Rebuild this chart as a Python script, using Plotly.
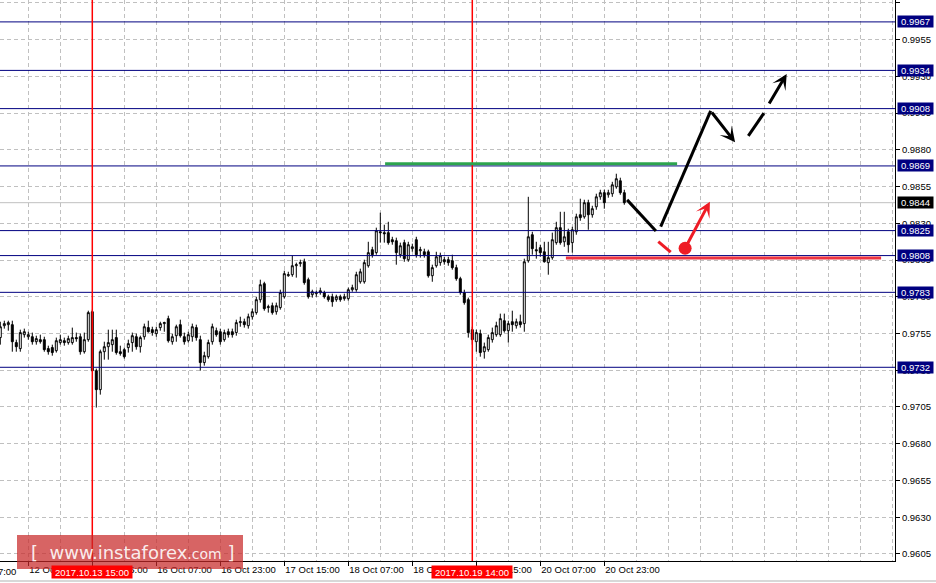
import plotly.graph_objects as go

# ---------------- data ----------------
bars = list(range(157))

opens = [
    0.97522, 0.97603, 0.97610, 0.97610, 0.97488, 0.97447, 0.97542, 0.97528, 0.97528, 0.97494,
    0.97508, 0.97508, 0.97447, 0.97454, 0.97433, 0.97488, 0.97501, 0.97488, 0.97488, 0.97522,
    0.97528, 0.97426, 0.97508, 0.97698, 0.97297, 0.97168, 0.97426, 0.97460, 0.97474, 0.97522,
    0.97426, 0.97440, 0.97454, 0.97488, 0.97528, 0.97460, 0.97528, 0.97590, 0.97576, 0.97549,
    0.97590, 0.97617, 0.97651, 0.97494, 0.97535, 0.97610, 0.97528, 0.97501, 0.97528, 0.97590,
    0.97508, 0.97352, 0.97392, 0.97494, 0.97569, 0.97562, 0.97508, 0.97562, 0.97562, 0.97556,
    0.97624, 0.97630, 0.97603, 0.97664, 0.97692, 0.97780, 0.97889, 0.97726, 0.97739, 0.97698,
    0.97726, 0.97800, 0.97943, 0.97950, 0.98011, 0.98025, 0.98038, 0.97916, 0.97814, 0.97821,
    0.97828, 0.97828, 0.97800, 0.97800, 0.97780, 0.97800, 0.97787, 0.97787, 0.97848, 0.97848,
    0.97902, 0.97902, 0.98011, 0.98120, 0.98100, 0.98242, 0.98236, 0.98236, 0.98188, 0.98181,
    0.98086, 0.98168, 0.98052, 0.98127, 0.98188, 0.98113, 0.98106, 0.98106, 0.97943, 0.98011,
    0.98032, 0.98052, 0.98052, 0.98045, 0.97998, 0.97923, 0.97828, 0.97780, 0.97576, 0.97494,
    0.97549, 0.97426, 0.97440, 0.97508, 0.97542, 0.97542, 0.97637, 0.97569, 0.97630, 0.97603,
    0.97630, 0.97617, 0.98045, 0.98222, 0.98120, 0.98134, 0.98106, 0.98032, 0.98066, 0.98168,
    0.98270, 0.98174, 0.98242, 0.98168, 0.98242, 0.98358, 0.98344, 0.98440, 0.98358, 0.98412,
    0.98480, 0.98508, 0.98494, 0.98501, 0.98548, 0.98589, 0.98508,
]
highs = [
    0.97630, 0.97637, 0.97637, 0.97637, 0.97508, 0.97576, 0.97583, 0.97562, 0.97556, 0.97535,
    0.97542, 0.97528, 0.97467, 0.97474, 0.97522, 0.97542, 0.97522, 0.97535, 0.97590, 0.97556,
    0.97549, 0.97556, 0.97705, 0.97712, 0.97311, 0.97440, 0.97494, 0.97576, 0.97576, 0.97576,
    0.97467, 0.97454, 0.97508, 0.97556, 0.97549, 0.97535, 0.97617, 0.97637, 0.97596, 0.97596,
    0.97630, 0.97630, 0.97671, 0.97549, 0.97610, 0.97644, 0.97556, 0.97562, 0.97617, 0.97610,
    0.97535, 0.97426, 0.97508, 0.97617, 0.97590, 0.97583, 0.97576, 0.97583, 0.97583, 0.97644,
    0.97664, 0.97651, 0.97685, 0.97719, 0.97800, 0.97916, 0.97902, 0.97746, 0.97760, 0.97760,
    0.97848, 0.97977, 0.97970, 0.98079, 0.98032, 0.98052, 0.98059, 0.97930, 0.97848, 0.97841,
    0.97862, 0.97841, 0.97814, 0.97821, 0.97814, 0.97814, 0.97821, 0.97862, 0.97882, 0.97970,
    0.97991, 0.98052, 0.98174, 0.98140, 0.98270, 0.98372, 0.98290, 0.98310, 0.98208, 0.98202,
    0.98168, 0.98188, 0.98174, 0.98161, 0.98208, 0.98140, 0.98127, 0.98120, 0.98018, 0.98106,
    0.98100, 0.98072, 0.98072, 0.98086, 0.98018, 0.97936, 0.97848, 0.97794, 0.97596, 0.97576,
    0.97576, 0.97488, 0.97542, 0.97590, 0.97630, 0.97685, 0.97685, 0.97637, 0.97705, 0.97651,
    0.97678, 0.98059, 0.98480, 0.98242, 0.98174, 0.98154, 0.98174, 0.98174, 0.98236, 0.98310,
    0.98378, 0.98378, 0.98263, 0.98276, 0.98365, 0.98467, 0.98460, 0.98460, 0.98419, 0.98501,
    0.98528, 0.98528, 0.98528, 0.98582, 0.98637, 0.98610, 0.98528,
]
lows = [
    0.97474, 0.97583, 0.97569, 0.97426, 0.97426, 0.97426, 0.97522, 0.97508, 0.97474, 0.97474,
    0.97481, 0.97426, 0.97406, 0.97399, 0.97420, 0.97474, 0.97467, 0.97474, 0.97474, 0.97494,
    0.97406, 0.97413, 0.97494, 0.97290, 0.97046, 0.97134, 0.97372, 0.97372, 0.97426, 0.97406,
    0.97399, 0.97379, 0.97420, 0.97426, 0.97440, 0.97420, 0.97508, 0.97556, 0.97535, 0.97528,
    0.97569, 0.97562, 0.97488, 0.97474, 0.97494, 0.97522, 0.97474, 0.97488, 0.97494, 0.97501,
    0.97297, 0.97331, 0.97379, 0.97474, 0.97528, 0.97474, 0.97494, 0.97522, 0.97522, 0.97535,
    0.97596, 0.97590, 0.97583, 0.97644, 0.97678, 0.97760, 0.97705, 0.97692, 0.97678, 0.97678,
    0.97712, 0.97787, 0.97936, 0.97936, 0.97930, 0.98004, 0.97882, 0.97787, 0.97794, 0.97800,
    0.97814, 0.97787, 0.97766, 0.97732, 0.97766, 0.97766, 0.97773, 0.97773, 0.97834, 0.97834,
    0.97889, 0.97889, 0.97998, 0.98066, 0.98086, 0.98168, 0.98168, 0.98154, 0.98154, 0.98018,
    0.98066, 0.98038, 0.98038, 0.98106, 0.98066, 0.98066, 0.98066, 0.97930, 0.97902, 0.97998,
    0.98011, 0.98018, 0.98011, 0.97984, 0.97909, 0.97814, 0.97746, 0.97522, 0.97474, 0.97426,
    0.97392, 0.97379, 0.97426, 0.97488, 0.97528, 0.97528, 0.97556, 0.97488, 0.97562, 0.97583,
    0.97590, 0.97562, 0.98032, 0.98086, 0.98059, 0.98072, 0.98032, 0.97950, 0.98052, 0.98154,
    0.98154, 0.98140, 0.98100, 0.98100, 0.98222, 0.98317, 0.98331, 0.98256, 0.98338, 0.98392,
    0.98460, 0.98399, 0.98474, 0.98480, 0.98535, 0.98494, 0.98426,
]
closes = [
    0.97596, 0.97617, 0.97624, 0.97494, 0.97460, 0.97556, 0.97562, 0.97542, 0.97494, 0.97515,
    0.97494, 0.97440, 0.97426, 0.97420, 0.97501, 0.97508, 0.97488, 0.97515, 0.97522, 0.97515,
    0.97426, 0.97508, 0.97692, 0.97297, 0.97168, 0.97426, 0.97460, 0.97488, 0.97508, 0.97420,
    0.97413, 0.97392, 0.97481, 0.97535, 0.97460, 0.97522, 0.97596, 0.97562, 0.97556, 0.97576,
    0.97617, 0.97624, 0.97501, 0.97528, 0.97596, 0.97535, 0.97494, 0.97542, 0.97596, 0.97522,
    0.97352, 0.97399, 0.97488, 0.97596, 0.97542, 0.97494, 0.97556, 0.97542, 0.97542, 0.97624,
    0.97630, 0.97610, 0.97664, 0.97698, 0.97780, 0.97882, 0.97719, 0.97732, 0.97692, 0.97739,
    0.97828, 0.97957, 0.97950, 0.98011, 0.98018, 0.98032, 0.97896, 0.97800, 0.97834, 0.97828,
    0.97841, 0.97800, 0.97780, 0.97766, 0.97800, 0.97780, 0.97800, 0.97848, 0.97862, 0.97950,
    0.97970, 0.98032, 0.98100, 0.98086, 0.98249, 0.98236, 0.98229, 0.98168, 0.98174, 0.98100,
    0.98147, 0.98059, 0.98154, 0.98140, 0.98086, 0.98120, 0.98086, 0.97943, 0.97998, 0.98072,
    0.98079, 0.98038, 0.98032, 0.97998, 0.97923, 0.97828, 0.97760, 0.97556, 0.97508, 0.97556,
    0.97420, 0.97460, 0.97522, 0.97556, 0.97603, 0.97651, 0.97569, 0.97617, 0.97610, 0.97630,
    0.97610, 0.98038, 0.98208, 0.98127, 0.98113, 0.98100, 0.98038, 0.98066, 0.98188, 0.98270,
    0.98168, 0.98208, 0.98154, 0.98256, 0.98344, 0.98338, 0.98440, 0.98358, 0.98399, 0.98480,
    0.98508, 0.98440, 0.98508, 0.98562, 0.98603, 0.98508, 0.98440,
]

# horizontal levels (navy) and their labels
levels = [0.9967, 0.9934, 0.9908, 0.9869, 0.9825, 0.9808, 0.9783, 0.9732]
level_labels = ["0.9967", "0.9934", "0.9908", "0.9869", "0.9825", "0.9808", "0.9783", "0.9732"]
current_price = 0.9844
current_label = "0.9844"

# price axis ticks
price_ticks = [0.9605, 0.9630, 0.9655, 0.9680, 0.9705, 0.9730, 0.9755, 0.9780,
               0.9805, 0.9830, 0.9855, 0.9880, 0.9905, 0.9930, 0.9955, 0.9980]
price_tick_text = ["0.9605", "0.9630", "0.9655", "0.9680", "0.9705", "0.9730", "0.9755", "0.9780",
                   "0.9805", "0.9830", "0.9855", "0.9880", "0.9905", "0.9930", "0.9955", "0.9980"]

# time axis ticks (bar index -> label)
time_tick_bars = [7, 23, 39, 55, 71, 87, 103, 119, 135, 151]
time_tick_text = ["12 Oct 23:00", "13 Oct 15:00", "16 Oct 07:00", "16 Oct 23:00", "17 Oct 15:00",
                  "18 Oct 07:00", "18 Oct 23:00", "19 Oct 15:00", "20 Oct 07:00", "20 Oct 23:00"]
first_label = "12 Oct 07:00"
grid_bars = list(range(-1, 224, 8))

# vertical event markers
event_bars = [23, 118]
event_labels = ["2017.10.13 15:00", "2017.10.19 14:00"]

# drawn objects (bar index, price)
green_bars = [96.2, 169.2]
green_price = 0.98705
red_bars = [141.4, 220.2]
red_price = 0.98063
black_path_1 = [(156.7, 0.98459), (163.9, 0.98248)]
black_path_2 = [(165.1, 0.98277), (177.6, 0.99064)]
black_arrow_down = [(177.6, 0.99064), (183.7, 0.98851)]
black_dash_seg = [(187.0, 0.98894), (190.9, 0.99049)]
black_arrow_up = [(192.0, 0.99105), (196.6, 0.99316)]
red_dash_seg = [(164.5, 0.98175), (167.6, 0.98103)]
red_dot = (171.2, 0.98130)
red_arrow = [(171.2, 0.98130), (177.4, 0.98447)]

AXIS_FONT = "Liberation Sans, Arial, sans-serif"
FS = 9.5
NAVY = "#000080"
GRID = "#C0C0C0"

# ---------------- figure ----------------
fig = go.Figure()
fig.add_trace(go.Candlestick(
    x=bars, open=opens, high=highs, low=lows, close=closes,
    increasing=dict(line=dict(color="black", width=1), fillcolor="white"),
    decreasing=dict(line=dict(color="black", width=1), fillcolor="black"),
    whiskerwidth=0, showlegend=False, hoverinfo="skip",
))
fig.add_trace(go.Scatter(
    x=[red_dot[0]], y=[red_dot[1]], mode="markers",
    marker=dict(size=13, color="#EE1C25"), showlegend=False, hoverinfo="skip",
))

shapes = []
shapes.append(dict(type="line", xref="paper", x0=0, x1=1, yref="y", y0=current_price, y1=current_price,
                   line=dict(color="#C0C0C0", width=1), layer="between"))
for lv in levels:
    shapes.append(dict(type="line", xref="paper", x0=0, x1=1, yref="y", y0=lv, y1=lv,
                       line=dict(color=NAVY, width=1), layer="above"))
for b in event_bars:
    shapes.append(dict(type="line", xref="x", x0=b, x1=b, yref="paper", y0=0, y1=1,
                       line=dict(color="#FF0000", width=1.5), layer="above"))
shapes.append(dict(type="line", xref="x", x0=green_bars[0], x1=green_bars[1], yref="y",
                   y0=green_price, y1=green_price, line=dict(color="#2DA44E", width=3), layer="above"))
shapes.append(dict(type="line", xref="x", x0=red_bars[0], x1=red_bars[1], yref="y",
                   y0=red_price, y1=red_price, line=dict(color="#EE3340", width=3), layer="above"))
for seg, col in [(black_path_1, "black"), (black_path_2, "black"), (black_dash_seg, "black"),
                 (red_dash_seg, "#EE1C25")]:
    shapes.append(dict(type="line", xref="x", yref="y", x0=seg[0][0], y0=seg[0][1],
                       x1=seg[1][0], y1=seg[1][1], line=dict(color=col, width=3), layer="above"))
shapes.append(dict(type="rect", xref="paper", yref="paper",
                   x0=17 / 895, x1=243 / 895, y0=(561 - 569) / 561, y1=(561 - 535) / 561,
                   fillcolor="rgba(200,40,40,0.72)", line=dict(width=0), layer="above"))
shapes.append(dict(type="line", xref="paper", yref="paper", x0=0, x1=936 / 895,
                   y0=(561 - 581) / 561, y1=(561 - 581) / 561,
                   line=dict(color="#D8D8D8", width=2), layer="above"))

annotations = []
for lv, txt in zip(levels, level_labels):
    annotations.append(dict(xref="paper", x=1, xanchor="left", xshift=2, yref="y", y=lv,
                            text=txt, showarrow=False, bgcolor=NAVY, width=35, height=11,
                            borderpad=0, font=dict(family=AXIS_FONT, size=FS, color="white")))
annotations.append(dict(xref="paper", x=1, xanchor="left", xshift=2, yref="y", y=current_price,
                        text=current_label, showarrow=False, bgcolor="black", width=35, height=11,
                        borderpad=0, font=dict(family=AXIS_FONT, size=FS, color="white")))
for b, txt in zip(event_bars, event_labels):
    annotations.append(dict(xref="x", x=b, xanchor="center", yref="paper", y=0, yanchor="top",
                            yshift=-4, text=txt, showarrow=False, bgcolor="#FF0000", width=80, height=12,
                            borderpad=0, font=dict(family=AXIS_FONT, size=FS, color="white")))
annotations.append(dict(xref="paper", x=17 / 895, xanchor="right", yref="paper", y=0, yanchor="top",
                        yshift=-4, text=first_label, showarrow=False, borderpad=0,
                        font=dict(family=AXIS_FONT, size=FS, color="black")))
for (tail, tip), col in [(black_arrow_down, "black"), (black_arrow_up, "black"), (red_arrow, "#EE1C25")]:
    annotations.append(dict(xref="x", yref="y", axref="x", ayref="y", x=tip[0], y=tip[1],
                            ax=tail[0], ay=tail[1], text="", showarrow=True, arrowhead=3,
                            arrowsize=0.85, arrowwidth=3, arrowcolor=col, standoff=0, startstandoff=0))
annotations.append(dict(xref="paper", yref="paper", x=132 / 895, y=(561 - 552) / 561,
                        xanchor="center", yanchor="middle", showarrow=False,
                        text="[  www.instaforex<span style='font-size:14px'>.com</span> ]",
                        font=dict(family="DejaVu Sans, Verdana, sans-serif", size=18,
                                  color="rgba(255,255,255,0.9)")))

fig.update_layout(
    width=936, height=583,
    margin=dict(l=0, r=41, t=0, b=22, autoexpand=False),
    paper_bgcolor="white", plot_bgcolor="white",
    showlegend=False,
    font=dict(family=AXIS_FONT, size=FS, color="black"),
    shapes=shapes, annotations=annotations,
    xaxis=dict(
        range=[-0.075, 223.675], rangeslider=dict(visible=False), automargin=False,
        showline=True, linecolor="black", linewidth=1, mirror=True,
        tickmode="array", tickvals=time_tick_bars, ticktext=time_tick_text, tickangle=0,
        ticks="outside", ticklen=4, tickcolor="black", ticklabelposition="outside right",
        showgrid=True, gridcolor=GRID, griddash="4px,3px", gridwidth=1,
        minor=dict(tickmode="array", tickvals=grid_bars, showgrid=True, gridcolor=GRID,
                   griddash="4px,3px", gridwidth=1, ticks=""),
        zeroline=False, fixedrange=True,
    ),
    yaxis=dict(
        side="right", range=[0.96002, 0.99819], automargin=False,
        tickmode="array", tickvals=price_ticks, ticktext=price_tick_text,
        ticks="outside", ticklen=4, tickcolor="black",
        showline=True, linecolor="black", linewidth=1,
        showgrid=True, gridcolor=GRID, griddash="4px,3px", gridwidth=1,
        zeroline=False, fixedrange=True,
    ),
)

fig.write_html("out.html", config={"displayModeBar": False},
               post_script="document.body.style.margin='0';document.body.style.overflow='hidden';")
